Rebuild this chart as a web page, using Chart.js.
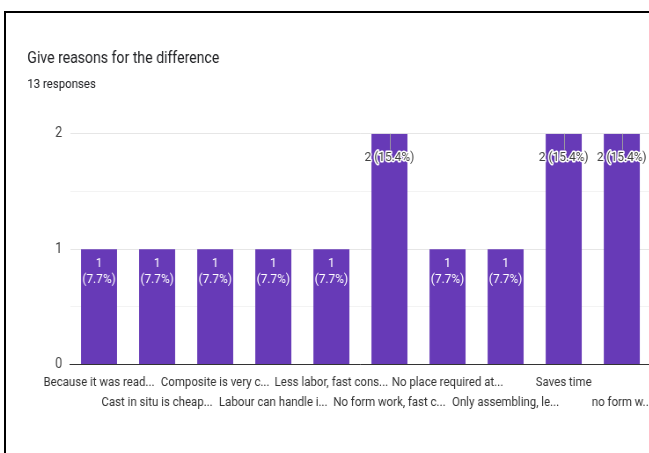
<!DOCTYPE html>
<html>
<head>
<meta charset="utf-8">
<script src="https://cdn.jsdelivr.net/npm/chart.js@4"></script>
<style>
  html, body { margin: 0; padding: 0; background: #fff; overflow: hidden; }
  #wrap { position: absolute; left: 0; top: 0; width: 649px; height: 453px; overflow: hidden; }
  #frame { position: absolute; left: 4px; top: 11px; width: 700px; height: 500px;
           border-top: 2px solid #000; border-left: 2px solid #000; }
  /* the source screenshot is squeezed sideways, so squeeze the canvas the same way */
  #c { position: absolute; left: 0; top: 0; transform: scale(0.88, 1); transform-origin: 0 0; }
</style>
</head>
<body>
<div id="wrap">
  <div id="frame"></div>
  <canvas id="c" width="750" height="453"></canvas>
</div>
<script>
const FONT = "Roboto, 'Liberation Sans', sans-serif";

const categories = [
  'Because it was read...',
  'Cast in situ is cheap...',
  'Composite is very c...',
  'Labour can handle i...',
  'Less labor, fast cons...',
  'No form work, fast c...',
  'No place required at...',
  'Only assembling, le...',
  'Saves time',
  'no form w...'
];
const counts = [1, 1, 1, 1, 1, 2, 1, 1, 2, 2];
const totalResponses = 13;
const yTicks = [0, 1, 2];

const barLabels = {
  id: 'barLabels',
  afterDatasetsDraw(chart) {
    const ctx = chart.ctx;
    const meta = chart.getDatasetMeta(0);
    ctx.save();
    ctx.font = '13.5px ' + FONT;
    ctx.textAlign = 'center';
    ctx.textBaseline = 'middle';
    meta.data.forEach((bar, i) => {
      const v = counts[i];
      const pct = (v / totalResponses * 100).toFixed(1) + '%';
      if (v >= 2) {
        ctx.strokeStyle = '#9e9e9e';
        ctx.lineWidth = 1;
        ctx.beginPath();
        ctx.moveTo(Math.round(bar.x) + 0.5, bar.y);
        ctx.lineTo(Math.round(bar.x) + 0.5, bar.y + 16);
        ctx.stroke();
        const t = v + ' (' + pct + ')';
        ctx.lineJoin = 'round';
        ctx.strokeStyle = '#ffffff';
        ctx.lineWidth = 3;
        ctx.strokeText(t, bar.x, bar.y + 24);
        ctx.fillStyle = '#424242';
        ctx.fillText(t, bar.x, bar.y + 24);
      } else {
        ctx.fillStyle = '#ffffff';
        ctx.fillText(String(v), bar.x, bar.y + 14);
        ctx.fillText('(' + pct + ')', bar.x, bar.y + 30);
      }
    });
    ctx.restore();
  }
};

new Chart(document.getElementById('c'), {
  type: 'bar',
  data: {
    labels: categories,
    datasets: [{
      data: counts,
      backgroundColor: '#673ab7',
      borderWidth: 0,
      barPercentage: 0.62,
      categoryPercentage: 1
    }]
  },
  options: {
    responsive: false,
    animation: false,
    layout: { padding: { left: 31, right: 8, top: 0, bottom: 32 } },
    plugins: {
      legend: { display: false },
      tooltip: { enabled: false },
      title: {
        display: true,
        text: 'Give reasons for the difference',
        align: 'start',
        color: '#202124',
        font: { family: FONT, size: 16, weight: 'normal' },
        padding: { top: 49, bottom: 8 }
      },
      subtitle: {
        display: true,
        text: totalResponses + ' responses',
        align: 'start',
        color: '#202124',
        font: { family: FONT, size: 13 },
        padding: { top: 1, bottom: 41 }
      }
    },
    scales: {
      x: {
        grid: { display: false, drawTicks: false },
        border: { display: true, color: '#333333', width: 1 },
        ticks: {
          autoSkip: false,
          maxRotation: 0,
          minRotation: 0,
          padding: 9,
          color: '#333333',
          font: { family: FONT, size: 13, lineHeight: 1.48 },
          callback: (v, i) => i % 2 === 0 ? [categories[i]] : ['', categories[i]]
        }
      },
      y: {
        min: 0,
        max: 2,
        afterFit: (s) => { s.width = 48.5; },
        border: { display: false },
        grid: {
          drawTicks: false,
          color: (c) => Number.isInteger(c.tick.value) ? '#e6e6e6' : '#f3f3f3'
        },
        ticks: {
          stepSize: 0.5,
          padding: 9,
          color: '#444444',
          font: { family: FONT, size: 14 },
          callback: (v) => yTicks.includes(v) ? String(v) : ''
        }
      }
    }
  },
  plugins: [barLabels]
});
</script>
</body>
</html>
